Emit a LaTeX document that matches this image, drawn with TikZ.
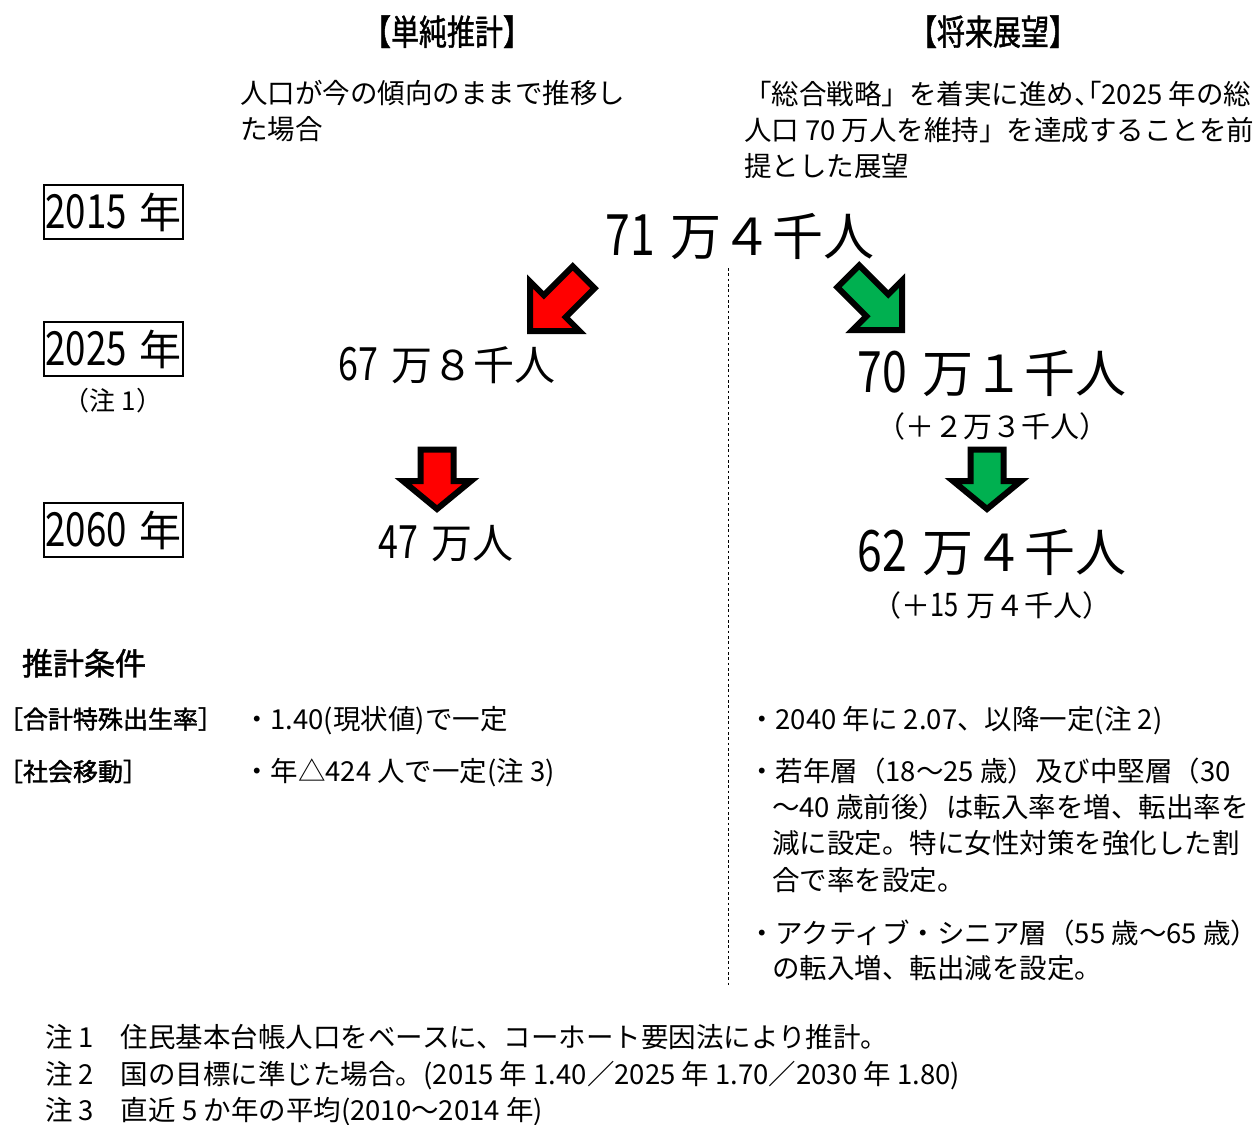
\documentclass[tikz,border=0pt]{standalone}
\usepackage{fontspec}
\setmainfont{Noto Sans CJK JP}
\newfontfamily\dg[FakeStretch=0.78,Scale=1.12]{Noto Sans CJK JP}
\newfontfamily\cnd[FakeStretch=0.8,FakeBold=1.2]{Noto Sans CJK JP}
\newfontfamily\bd[FakeBold=1.5]{Noto Sans CJK JP}
\newfontfamily\hlt[RawFeature=+halt]{Noto Sans CJK JP}
\newcommand\pxs[1]{\fontsize{\dimexpr #1pt*3/4\relax}{\dimexpr #1pt*9/10\relax}\selectfont}
\definecolor{arrred}{RGB}{255,0,0}
\definecolor{arrgreen}{RGB}{0,176,80}
\tikzset{
  txt/.style={inner sep=0pt, outer sep=0pt},
  body/.style={txt, anchor=base west, font=\pxs{27.5}},
  bignum/.style={txt, anchor=base},
  yearbox/.style={draw, line width=1.5pt, minimum width=104.5pt, minimum height=41pt, inner sep=0pt, font=\pxs{42}},
  blockarrow/.style={draw=black, line width=4.5pt, miter limit=10, line join=miter},
  divider/.style={line width=0.75pt, dash pattern=on 2pt off 2pt}
}
\begin{document}
\begin{tikzpicture}[x=0.75pt, y=-0.75pt]
\fill[white] (0,0) rectangle (1259,1124);
\path[use as bounding box] (0,0) rectangle (1259,1124);

% headings
\node[txt, anchor=base, font=\pxs{35}\cnd] (h1) at (447,45) {【単純推計】};
\node[txt, anchor=base, font=\pxs{35}\cnd] (h2) at (993,45) {【将来展望】};

% descriptions
\node[body] (d1a) at (240,103.5) {人口が今の傾向のままで推移し};
\node[body] (d1b) at (240,139.5) {た場合};
\node[body] (d2a) at (744,104) {「総合戦略」を着実に進め{\hlt 、「}2025 年の総};
\node[body] (d2b) at (744,140) {人口 70 万人を維持」を達成することを前};
\node[body] (d2c) at (744,176) {提とした展望};

% year boxes
\node[yearbox] (y2015) at (113.5,212) {{\dg 2015}\hspace{0.3em}年};
\node[yearbox] (y2025) at (113.5,349) {{\dg 2025}\hspace{0.3em}年};
\node[body, anchor=base, font=\pxs{26}] (n1) at (113,410) {（注 1）};
\node[yearbox] (y2060) at (113.5,530) {{\dg 2060}\hspace{0.3em}年};

% numbers
\node[bignum, font=\pxs{51}] (p2015) at (740,255) {{\dg 71}\hspace{0.3em}万４千人};
\node[bignum, font=\pxs{41}] (s2025) at (447,380) {{\dg 67}\hspace{0.3em}万８千人};
\node[bignum, font=\pxs{51}] (f2025) at (992,392) {{\dg 70}\hspace{0.3em}万１千人};
\node[bignum, font=\pxs{29}] (f2025d) at (992,437.5) {（＋２万３千人）};
\node[bignum, font=\pxs{41}] (s2060) at (446,558) {{\dg 47}\hspace{0.3em}万人};
\node[bignum, font=\pxs{51}] (f2060) at (992,571) {{\dg 62}\hspace{0.3em}万４千人};
\node[bignum, font=\pxs{29}] (f2060d) at (992,616) {（＋{\dg 15}\hspace{0.3em}万４千人）};

% divider
\coordinate (dtop) at (728,268);
\coordinate (dbot) at (728,985);
\draw[divider] (dtop) -- (dbot);

% diagonal arrows
\begin{scope}[shift={(530,331)}, rotate=225]
  \draw[blockarrow, fill=arrred] (0,0) -- (-35,35) -- (-35,15.5) -- (-76,15.5) -- (-76,-15.5) -- (-35,-15.5) -- (-35,-35) -- cycle;
\end{scope}
\begin{scope}[shift={(902,330)}, rotate=-45]
  \draw[blockarrow, fill=arrgreen] (0,0) -- (-35,35) -- (-35,15.5) -- (-76,15.5) -- (-76,-15.5) -- (-35,-15.5) -- (-35,-35) -- cycle;
\end{scope}

% down arrows
\begin{scope}[shift={(437,0)}]
  \draw[blockarrow, fill=arrred] (-16.5,449.5) -- (16.5,449.5) -- (16.5,481) -- (34,481) -- (0,509) -- (-34,481) -- (-16.5,481) -- cycle;
\end{scope}
\begin{scope}[shift={(987,0)}]
  \draw[blockarrow, fill=arrgreen] (-16.5,449.5) -- (16.5,449.5) -- (16.5,481) -- (34,481) -- (0,509) -- (-34,481) -- (-16.5,481) -- cycle;
\end{scope}

% conditions
\node[txt, anchor=base west, font=\pxs{31}\bd] (cond) at (22,675) {推計条件};
\node[body, font=\pxs{25}\bd] (c1) at (-2,728.5) {［合計特殊出生率］};
\node[body] (c1s) at (243,729) {・1.40(現状値)で一定};
\node[body, font=\pxs{25}\bd] (c2) at (-2,781) {［社会移動］};
\node[body] (c2s) at (243,781) {・年△424 人で一定(注 3)};

\node[body] (r1) at (748,729) {・2040 年に 2.07、以降一定(注 2)};
\node[body] (r2a) at (748,781) {・若年層（18～25 歳）及び中堅層（30};
\node[body] (r2b) at (772,817) {～40 歳前後）は転入率を増、転出率を};
\node[body] (r2c) at (772,853) {減に設定。特に女性対策を強化した割};
\node[body] (r2d) at (772,890) {合で率を設定。};
\node[body] (r3a) at (748,943) {・アクティブ・シニア層（55 歳～65 歳）};
\node[body] (r3b) at (772,978) {の転入増、転出減を設定。};

% footnotes
\node[body] (fn1) at (45,1047) {\makebox[57pt][l]{注 1}住民基本台帳人口をベースに、コーホート要因法により推計。};
\node[body] (fn2) at (45,1084) {\makebox[57pt][l]{注 2}国の目標に準じた場合。(2015 年 1.40／2025 年 1.70／2030 年 1.80)};
\node[body] (fn3) at (45,1120) {\makebox[57pt][l]{注 3}直近 5 か年の平均(2010～2014 年)};
\end{tikzpicture}
\end{document}
